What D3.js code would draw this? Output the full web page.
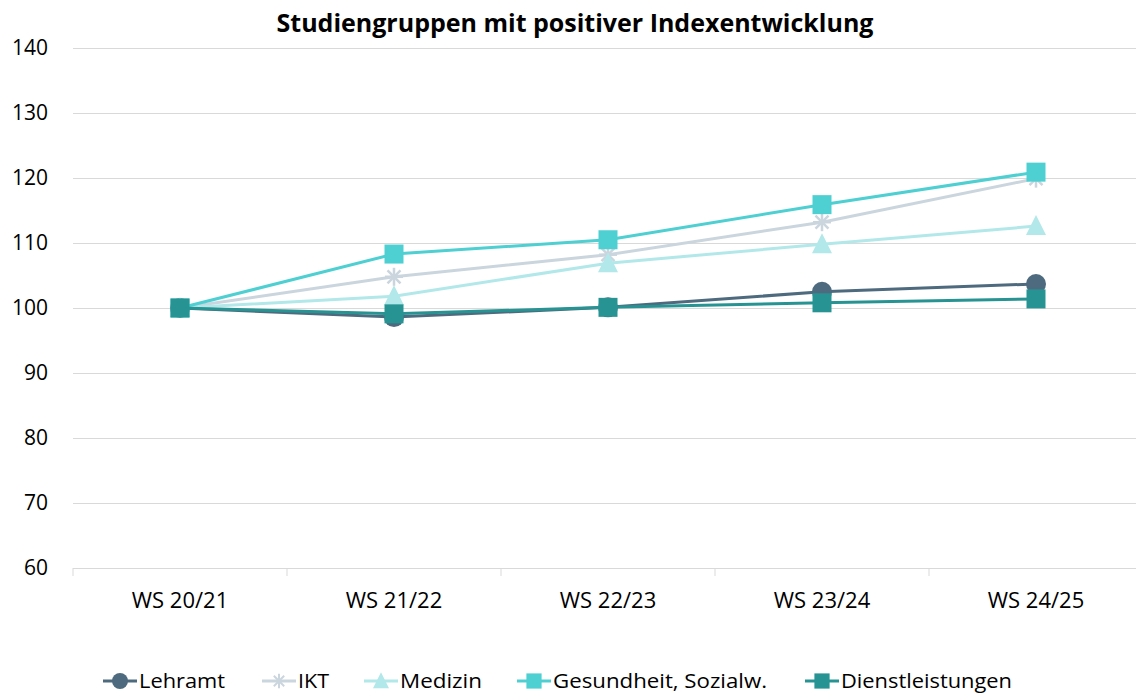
<!DOCTYPE html>
<html>
<head>
<meta charset="utf-8">
<script src="https://cdn.jsdelivr.net/npm/d3@7"></script>
<style>
  body { margin: 0; background: #fff; }
  svg text { font-family: "Open Sans", "Noto Sans", sans-serif; fill: #000; }
</style>
</head>
<body>
<div id="graphic"></div>
<script>
// chart data
const semesters = ["WS 20/21", "WS 21/22", "WS 22/23", "WS 23/24", "WS 24/25"];
const seriesNames = ["Lehramt", "IKT", "Medizin", "Gesundheit, Sozialw.", "Dienstleistungen"];
const lehramt = [100, 98.6, 100.1, 102.5, 103.7];
const ikt = [100, 104.8, 108.2, 113.2, 119.9];
const medizin = [100, 101.8, 106.9, 109.8, 112.6];
const gesundheit = [100, 108.3, 110.5, 115.9, 120.9];
const dienstleistungen = [100, 99.1, 100.1, 100.8, 101.4];
const yTicks = [60, 70, 80, 90, 100, 110, 120, 130, 140];

const colours = ["#4e6a7e", "#cbd5de", "#b2e8e9", "#4ecfd2", "#279493"];
const symbols = ["circle", "star", "triangle", "square", "square"];
const seriesValues = [lehramt, ikt, medizin, gesundheit, dienstleistungen];

const width = 1136, height = 695;
const margin = { top: 48, right: -7, bottom: 127, left: 73 };
const chartWidth = width - margin.left - margin.right;
const chartHeight = height - margin.top - margin.bottom;

const svg = d3.select('#graphic').append('svg')
  .attr('width', width).attr('height', height);

svg.append('text')
  .attr('x', 575).attr('y', 32)
  .attr('text-anchor', 'middle')
  .style('font-size', '25px').style('font-weight', 'bold')
  .text('Studiengruppen mit positiver Indexentwicklung');

const g = svg.append('g').attr('transform', `translate(${margin.left},${margin.top})`);

const x = d3.scaleBand().domain(semesters).range([0, chartWidth]);
const y = d3.scaleLinear().domain([60, 140]).range([chartHeight, 0]);

// gridlines + y labels
const yAxis = d3.axisLeft(y).tickValues(yTicks).tickSize(-chartWidth).tickPadding(25);
g.append('g').call(yAxis)
  .call(s => s.select('.domain').remove())
  .call(s => s.selectAll('line').attr('stroke', '#d9d9d9').attr('stroke-width', 1))
  .call(s => s.selectAll('text').style('font-size', '21px').style('font-family', '"Open Sans", sans-serif'));

// x axis with ticks at category boundaries
g.append('g').attr('transform', `translate(0,${chartHeight})`)
  .call(d3.axisBottom(x).tickSize(0).tickPadding(24))
  .call(s => s.select('.domain').attr('stroke', '#d9d9d9'))
  .call(s => s.selectAll('text').style('font-size', '22px').style('font-family', '"Open Sans", sans-serif'));

const bounds = d3.range(semesters.length + 1).map(i => i * x.step());
g.append('g').selectAll('line').data(bounds).join('line')
  .attr('x1', d => d).attr('x2', d => d)
  .attr('y1', chartHeight).attr('y2', chartHeight + 8)
  .attr('stroke', '#d9d9d9');

const cx = d => x(d) + x.bandwidth() / 2;

function drawMarker(sel, type, colour) {
  if (type === 'circle') {
    sel.append('circle').attr('r', 10).attr('fill', colour);
  } else if (type === 'square') {
    sel.append('rect').attr('x', -9.5).attr('y', -9.5).attr('width', 19).attr('height', 19).attr('fill', colour);
  } else if (type === 'triangle') {
    sel.append('path').attr('d', 'M0,-11 L10,9 L-10,9 Z').attr('fill', colour);
  } else if (type === 'star') {
    const r = 9;
    const p = [[-r, 0, r, 0], [0, -r, 0, r], [-r * .72, -r * .72, r * .72, r * .72], [-r * .72, r * .72, r * .72, -r * .72]];
    sel.selectAll('line').data(p).join('line')
      .attr('x1', d => d[0]).attr('y1', d => d[1]).attr('x2', d => d[2]).attr('y2', d => d[3])
      .attr('stroke', colour).attr('stroke-width', 2.5);
  }
}

const line = d3.line().x((d, i) => cx(semesters[i])).y(d => y(d));

seriesValues.forEach((vals, k) => {
  const sg = g.append('g');
  sg.append('path').datum(vals)
    .attr('d', line).attr('fill', 'none')
    .attr('stroke', colours[k]).attr('stroke-width', 3);
  vals.forEach((v, i) => {
    const m = sg.append('g').attr('transform', `translate(${cx(semesters[i])},${y(v)})`);
    drawMarker(m, symbols[k], colours[k]);
  });
});

// legend
const legendX = [103, 262, 364, 517, 805];
const legendW = [86, 31, 82, 214, 171];
const legend = svg.append('g').attr('transform', 'translate(0,681)');
seriesNames.forEach((name, k) => {
  const it = legend.append('g').attr('transform', `translate(${legendX[k]},0)`);
  it.append('line').attr('x1', 0).attr('x2', 34).attr('y1', 0).attr('y2', 0)
    .attr('stroke', colours[k]).attr('stroke-width', 3);
  const m = it.append('g');
  drawMarker(m, symbols[k], colours[k]);
  m.attr('transform', 'translate(17,0) scale(0.8)');
  it.append('text').attr('x', 36).attr('y', 7)
    .style('font-size', '20px')
    .attr('textLength', legendW[k])
    .attr('lengthAdjust', 'spacingAndGlyphs')
    .text(name);
});
</script>
</body>
</html>
